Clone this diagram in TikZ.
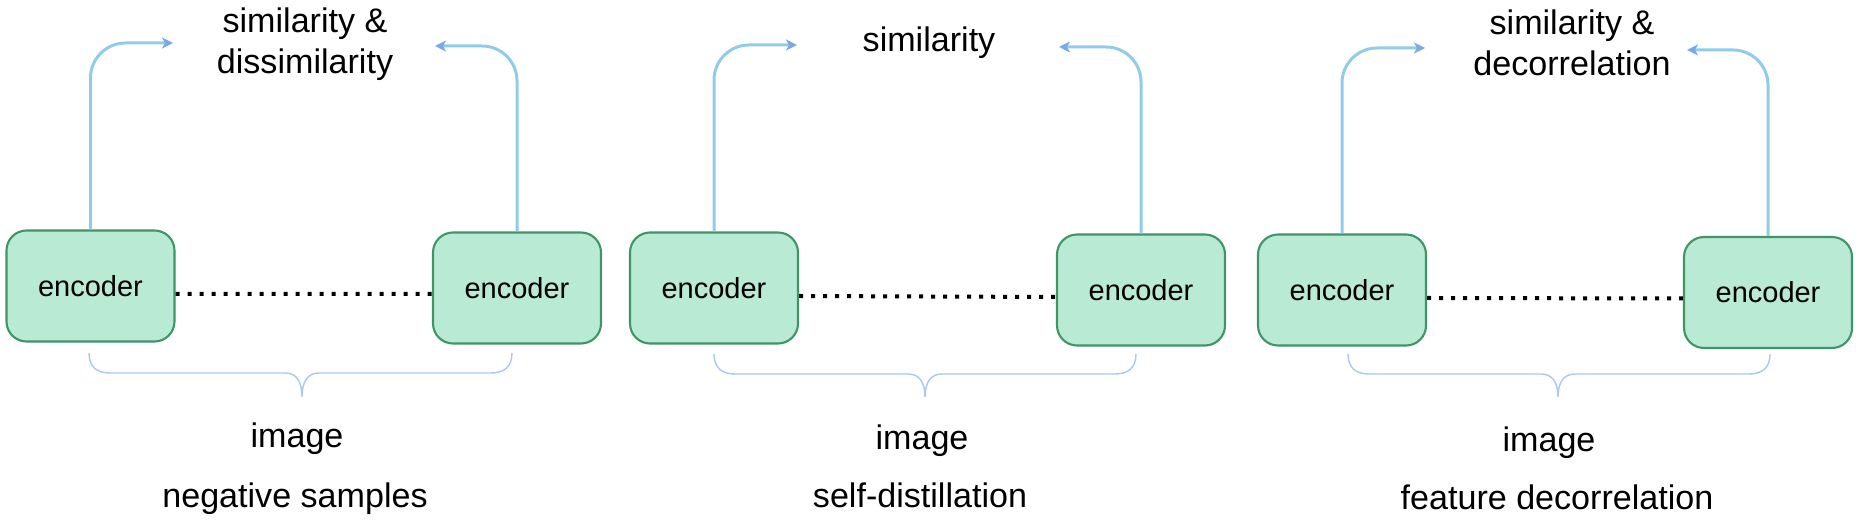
\documentclass[tikz,border=0pt]{standalone}
\usepackage{fontspec}
\setmainfont{Liberation Sans}
\usetikzlibrary{arrows.meta}

\definecolor{encfill}{HTML}{B9EAD3}
\definecolor{encdraw}{HTML}{3F9468}
\definecolor{flowblue}{HTML}{90CBEC}
\definecolor{tipblue}{HTML}{78AAE6}
\definecolor{braceblue}{HTML}{A9C7F4}

\tikzset{
  encbox/.style={draw=encdraw, fill=encfill, line width=0.6pt, rounded corners=0.2cm,
    minimum width=1.68cm, minimum height=1.11cm, inner sep=0pt,
    font=\fontsize{8.25}{10}\selectfont},
  flowline/.style={draw=flowblue, line width=0.85pt, rounded corners=0.35cm,
    -{Stealth[length=1.1mm,width=1.1mm,inset=0.3mm,color=tipblue]}},
  dotline/.style={line width=0.04cm, dash pattern=on 0.04cm off 0.08cm},
  bracepath/.style={draw=braceblue, line width=0.4pt},
  txt/.style={font=\fontsize{9.7}{11.7}\selectfont, align=center, anchor=base, inner sep=0pt},
}

\begin{document}
\begin{tikzpicture}
    \useasboundingbox (0,0) rectangle (18.63,5.23);

    % negative samples
    \node[encbox] (e1a) at (0.905,2.37) {encoder};
    \node[encbox] (e1b) at (5.17,2.35) {encoder};
    \draw[dotline] ([yshift=-0.08cm]e1a.east) -- ([yshift=-0.06cm]e1b.west);
    \coordinate (s1l) at (1.73,4.80);
    \coordinate (s1r) at (4.35,4.77);
    \draw[flowline] (e1a.north) |- (s1l);
    \draw[flowline] (e1b.north) |- (s1r);
    \node[txt] (t1) at (3.05,4.49) {similarity \&\\dissimilarity};
    \draw[bracepath] (0.89,1.70) .. controls (0.89,1.56) and (0.97,1.50) .. (1.10,1.50) -- (2.85,1.50)
        .. controls (2.96,1.50) and (3.02,1.42) .. (3.02,1.26) .. controls (3.02,1.42) and (3.08,1.50) .. (3.19,1.50)
        -- (4.91,1.50) .. controls (5.04,1.50) and (5.12,1.56) .. (5.12,1.70);
    \node[txt] (i1) at (2.97,0.75) {image};
    \node[txt] (c1) at (2.95,0.15) {negative samples};

    % self-distillation
    \node[encbox] (e2a) at (7.14,2.35) {encoder};
    \node[encbox] (e2b) at (11.41,2.33) {encoder};
    \draw[dotline] ([yshift=-0.08cm]e2a.east) -- ([yshift=-0.07cm]e2b.west);
    \coordinate (s2l) at (7.97,4.78);
    \coordinate (s2r) at (10.59,4.76);
    \draw[flowline] (e2a.north) |- (s2l);
    \draw[flowline] (e2b.north) |- (s2r);
    \node[txt] (t2) at (9.29,4.71) {similarity};
    \draw[bracepath] (7.14,1.69) .. controls (7.14,1.55) and (7.22,1.49) .. (7.35,1.49) -- (9.08,1.49)
        .. controls (9.19,1.49) and (9.25,1.41) .. (9.25,1.26) .. controls (9.25,1.41) and (9.31,1.49) .. (9.42,1.49)
        -- (11.15,1.49) .. controls (11.28,1.49) and (11.36,1.55) .. (11.36,1.69);
    \node[txt] (i2) at (9.22,0.73) {image};
    \node[txt] (c2) at (9.20,0.15) {self-distillation};

    % feature decorrelation
    \node[encbox] (e3a) at (13.42,2.33) {encoder};
    \node[encbox] (e3b) at (17.68,2.305) {encoder};
    \draw[dotline] ([yshift=-0.08cm]e3a.east) -- ([yshift=-0.06cm]e3b.west);
    \coordinate (s3l) at (14.25,4.75);
    \coordinate (s3r) at (16.87,4.73);
    \draw[flowline] (e3a.north) |- (s3l);
    \draw[flowline] (e3b.north) |- (s3r);
    \node[txt] (t3) at (15.72,4.47) {similarity \&\\decorrelation};
    \draw[bracepath] (13.48,1.69) .. controls (13.48,1.55) and (13.56,1.49) .. (13.69,1.49) -- (15.41,1.49)
        .. controls (15.52,1.49) and (15.58,1.41) .. (15.58,1.26) .. controls (15.58,1.41) and (15.64,1.49) .. (15.75,1.49)
        -- (17.49,1.49) .. controls (17.62,1.49) and (17.70,1.55) .. (17.70,1.69);
    \node[txt] (i3) at (15.49,0.71) {image};
    \node[txt] (c3) at (15.57,0.13) {feature decorrelation};
\end{tikzpicture}
\end{document}
